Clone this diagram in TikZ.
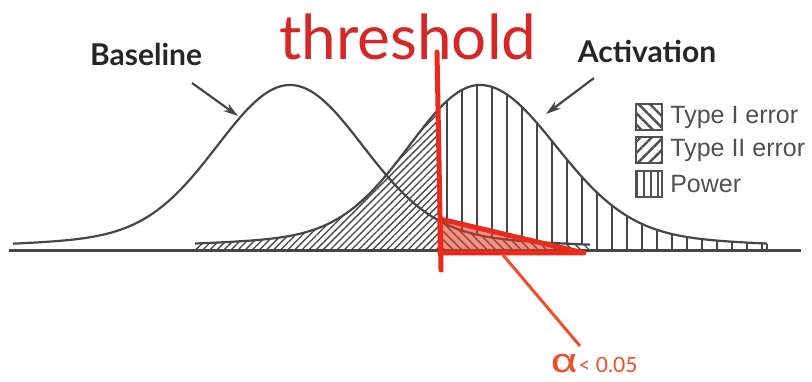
\documentclass[tikz,border=0pt]{standalone}
\usepackage{fontspec}
\setmainfont{Lato}
\newfontfamily\legendfont{Liberation Sans}
\newfontfamily\greekfont[FakeStretch=1.4]{Fira Sans}
\usetikzlibrary{positioning,arrows.meta,patterns.meta}

\definecolor{curvegray}{RGB}{70,70,70}
\definecolor{threshred}{RGB}{214,38,38}
\definecolor{linered}{RGB}{234,42,26}
\definecolor{alphared}{RGB}{240,78,40}
\definecolor{legendgray}{RGB}{80,80,80}

\tikzset{
  declare function={
    gs(\t)=exp(-0.5*(\t)*(\t));
    basecurve(\x)=251-150*gs((\x-290)/72)-16*gs((\x-290)/220);
    actcurve(\x)=251-150*gs((\x-480)/ifthenelse(\x<480,70,75))-16*gs((\x-480)/230);
  },
  curve/.style={curvegray, line width=2.2pt, line join=round},
  powerline/.style={curvegray, line width=1.8pt},
  pointer/.style={curvegray, line width=2.2pt, -{Stealth[length=15pt,width=9pt]}},
  label/.style={font=\bfseries\fontsize{30}{30}\selectfont, text=black!85, inner sep=0pt, anchor=base},
  legbox/.style={draw=legendgray, line width=2pt, minimum size=26pt, inner sep=0pt, pattern color=legendgray},
  legtext/.style={font=\legendfont\fontsize{25}{25}\selectfont, text=legendgray, inner sep=0pt},
  redline/.style={linered, line width=5pt, line cap=round, line join=round},
}

\begin{document}
\begin{tikzpicture}[x=1pt,y=-1pt]
\useasboundingbox (0,0) rectangle (812,382);

% hatched areas
\fill[pattern={Lines[angle=45,distance=5pt,line width=1.3pt]}, pattern color=curvegray]
  (195,251) -- plot[domain=195:438,samples=80] (\x,{actcurve(\x)}) -- (438,251) -- cycle;
\foreach \x in {447,462,...,762}
  \draw[powerline] (\x,251) -- (\x,{actcurve(\x)});
\draw[powerline] (767,251) -- (767,{actcurve(767)});
\fill[white] (438,251) -- plot[domain=438:590,samples=50] (\x,{basecurve(\x)}) -- (590,251) -- cycle;
\fill[pattern={Lines[angle=-45,distance=6pt,line width=1.4pt]}, pattern color=black!70]
  (438,251) -- plot[domain=438:590,samples=50] (\x,{basecurve(\x)}) -- (590,251) -- cycle;

% curves and axis
\draw[curve] plot[domain=195:767,samples=160] (\x,{actcurve(\x)});
\draw[curve] plot[domain=13:590,samples=160] (\x,{basecurve(\x)});
\draw[curvegray, line width=3pt] (9,251) -- (801,251);

% red marks
\fill[linered!85!brown, fill opacity=0.55] (440,219) -- (584,253) -- (440,253) -- cycle;
\draw[redline] (440,219) -- (584,253) -- (440,253) -- cycle;
\coordinate (threshtop) at (437,52);
\coordinate (threshbot) at (441,270);
\draw[redline] (threshtop) -- (threshbot);

\node[text=threshred, font=\fontsize{62}{62}\selectfont, inner sep=0pt, anchor=base] (thresh) at (408,60) {threshold};

\node[anchor=base west, inner sep=0pt, text=alphared] (alphalbl) at (550,373)
  {{\greekfont\fontsize{34}{34}\selectfont α}{\fontsize{21}{21}\selectfont< 0.05}};
\coordinate (alphafrom) at (503,255);
\coordinate (alphato) at (580,346);
\draw[alphared, line width=3pt] (alphafrom) -- (alphato);

% labels
\node[label] (baselbl) at (146,66) {Baseline};
\node[label] (actlbl) at (647,63) {Activation};
\coordinate (basefrom) at (192,83);
\coordinate (baseto) at (238,116);
\coordinate (actfrom) at (594,78);
\coordinate (actto) at (546,114);
\draw[pointer] (basefrom) -- (baseto);
\draw[pointer] (actfrom) -- (actto);

% legend
\node[legbox, pattern={Lines[angle=-45,distance=8pt,line width=2.4pt]}] (boxI) at (649,117) {};
\node[legbox, pattern={Lines[angle=45,distance=8pt,line width=2.4pt]}] (boxII) at (649,150) {};
\node[legbox, pattern={Lines[angle=90,distance=7pt,line width=2.2pt]}] (boxP) at (649,184) {};
\node[legtext, right=7pt of boxI] (txtI) {Type I error};
\node[legtext, right=7pt of boxII] (txtII) {Type II error};
\node[legtext, right=7pt of boxP] (txtP) {Power};

\end{tikzpicture}
\end{document}
